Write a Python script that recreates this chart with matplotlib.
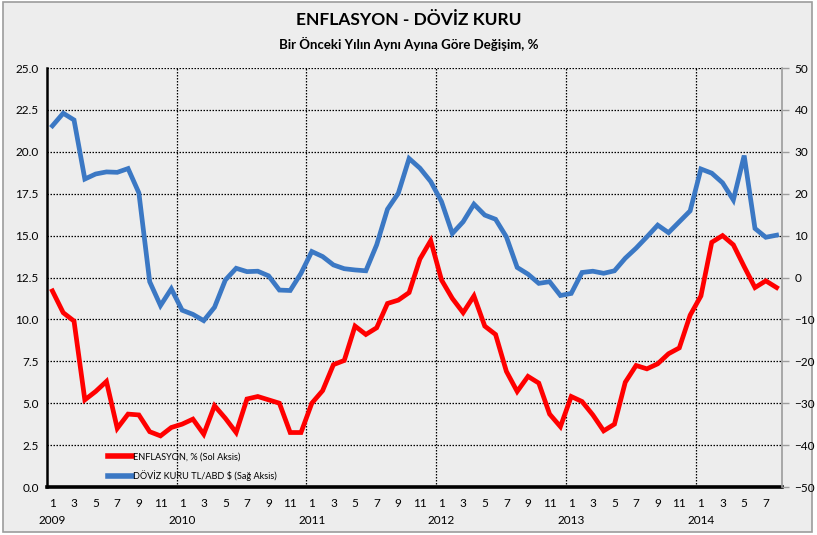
import matplotlib
matplotlib.use("Agg")
import matplotlib.pyplot as plt
import matplotlib.transforms as mtransforms
from matplotlib.patches import Rectangle
import numpy as np

plt.rcParams["font.family"] = ["Lato", "DejaVu Sans"]

# ==============================
# DATA (Jan 2009 - Aug 2014, monthly)
# ==============================
years = [2009, 2010, 2011, 2012, 2013, 2014]
month_labels = ["1", "3", "5", "7", "9", "11"]

enflasyon = [
    11.7, 10.4, 9.9, 5.2, 5.7, 6.3, 3.5, 4.35, 4.3, 3.3, 3.05, 3.55,   # 2009
    3.75, 4.05, 3.15, 4.85, 4.1, 3.25, 5.25, 5.4, 5.2, 5.0, 3.25, 3.25,  # 2010
    5.0, 5.75, 7.3, 7.55, 9.6, 9.1, 9.5, 10.95, 11.15, 11.6, 13.6, 14.7,  # 2011
    12.35, 11.25, 10.4, 11.4, 9.6, 9.1, 6.9, 5.7, 6.6, 6.2, 4.35, 3.6,   # 2012
    5.4, 5.1, 4.3, 3.35, 3.75, 6.25, 7.25, 7.05, 7.35, 7.95, 8.3, 10.25,  # 2013
    11.4, 14.6, 15.0, 14.45, 13.15, 11.9, 12.3, 11.9,                     # 2014
]

doviz = [
    36.2, 39.2, 37.6, 23.5, 24.7, 25.2, 25.1, 26.0, 20.2, -1.0, -6.7, -2.7,   # 2009
    -7.8, -8.8, -10.3, -7.1, -0.6, 2.2, 1.4, 1.5, 0.4, -3.0, -3.1, 1.0,       # 2010
    6.2, 5.0, 3.0, 2.1, 1.8, 1.6, 7.8, 16.3, 20.1, 28.4, 26.1, 22.9,         # 2011
    18.1, 10.5, 13.3, 17.5, 14.9, 13.9, 9.7, 2.4, 0.8, -1.4, -1.0, -4.3,     # 2012
    -3.8, 1.2, 1.5, 1.0, 1.6, 4.6, 7.0, 9.7, 12.5, 10.7, 13.3, 15.9,         # 2013
    25.9, 24.9, 22.6, 18.5, 29.1, 11.7, 9.6, 10.1,                           # 2014
]

label_enf = "ENFLASYON, % (Sol Aksis)"
label_doviz = "DÖVİZ KURU TL/ABD $ (Sağ Aksis)"

x = np.arange(len(enflasyon))

# ==============================
# FIGURE
# ==============================
W, H = 817, 535
fig = plt.figure(figsize=(W / 100, H / 100), dpi=100, facecolor="white")
fig.patches.append(Rectangle((3 / W, 3 / H), 809 / W, 530 / H, transform=fig.transFigure,
                             facecolor="#EDEDED", edgecolor="#9C9C9C", linewidth=1.2, zorder=-10))

ax = fig.add_axes([47 / W, 1 - 487 / H, 735 / W, 419 / H])
ax.set_facecolor("#EDEDED")
ax2 = ax.twinx()

fig.text(0.5, 1 - 20 / H, "ENFLASYON - DÖVİZ KURU", ha="center", va="center",
         fontsize=12.5, fontweight="bold")
fig.text(0.5, 1 - 44 / H, "Bir Önceki Yılın Aynı Ayına Göre Değişim, %", ha="center", va="center",
         fontsize=9.5, fontweight="bold")

# grid
for v in np.arange(2.5, 25.1, 2.5):
    ax.axhline(v, color="black", linestyle=(0, (1.2, 1.2)), linewidth=0.9, zorder=1)
for i in range(1, len(years)):
    ax.axvline(12 * i - 0.5, color="black", linestyle=(0, (1.2, 1.2)), linewidth=0.9, zorder=1)

l1, = ax.plot(x, enflasyon, color="#FF0000", linewidth=3.4, zorder=3, solid_joinstyle="miter")
l2, = ax2.plot(x, doviz, color="#3B78C4", linewidth=3.4, zorder=3, solid_joinstyle="miter")

ax.set_xlim(-0.5, len(x) - 0.5)
ax.set_ylim(0, 25)
ax2.set_ylim(-50, 50)
ax.set_yticks(np.arange(0, 25.1, 2.5))
ax.set_yticklabels([f"{v:.1f}" for v in np.arange(0, 25.1, 2.5)])
ax2.set_yticks(np.arange(-50, 51, 10))

ticks = []
tlabels = []
for yi in range(len(years)):
    for m in range(1, 13, 2):
        idx = yi * 12 + m - 1
        if idx < len(x):
            ticks.append(idx)
            tlabels.append(str(m))
ax.set_xticks(ticks)
ax.set_xticklabels(tlabels)
ax.tick_params(axis="x", length=0, pad=8, labelsize=8.5)
ax.tick_params(axis="y", length=0, pad=6, labelsize=8.5)
ax2.tick_params(axis="y", length=5, width=1, color="#9C9C9C", pad=4, labelsize=8.5)

trans = mtransforms.blended_transform_factory(ax.transData, ax.transAxes)
for yi, yr in enumerate(years):
    ax.text(yi * 12, -34 / 419, str(yr), transform=trans, ha="center", va="center", fontsize=8.5)

for s in ["top"]:
    ax.spines[s].set_visible(False)
    ax2.spines[s].set_visible(False)
ax.spines["left"].set_linewidth(1.8)
ax.spines["bottom"].set_linewidth(2.6)
ax.spines["right"].set_visible(False)
ax2.spines["bottom"].set_visible(False)
ax2.spines["left"].set_visible(False)
ax2.spines["right"].set_color("#9C9C9C")
ax2.spines["right"].set_linewidth(1.2)

leg = ax.legend([l1, l2], [label_enf, label_doviz], loc="lower left", bbox_to_anchor=(0.072, -0.005),
                frameon=False, fontsize=6.6, handlelength=2.6, handletextpad=0.1, labelspacing=0.95)
for h in leg.get_lines():
    h.set_linewidth(4)

fig.savefig("out.png", dpi=100, facecolor=fig.get_facecolor())
